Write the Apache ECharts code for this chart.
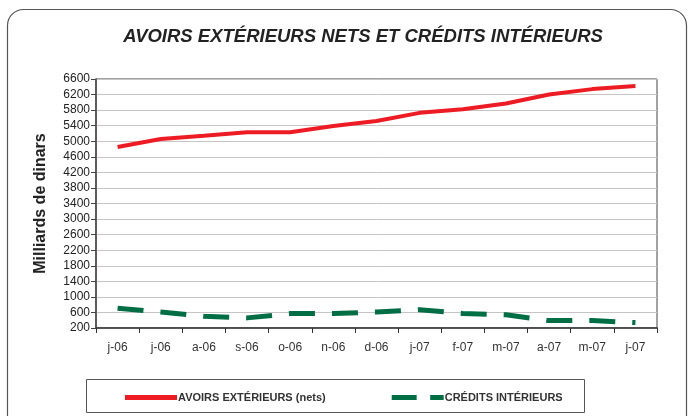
<!DOCTYPE html>
<html>
<head>
<meta charset="utf-8">
<script src="https://cdn.jsdelivr.net/npm/echarts@6/dist/echarts.min.js"></script>
<style>
	html, body {margin: 0; padding: 0; background: #fff;}
	#chart {width: 690px; height: 416px;}
</style>
</head>
<body>
<div id="chart"></div>
<script>
// mois (juin 2006 - juin 2007)
var months = ['j-06', 'j-06', 'a-06', 's-06', 'o-06', 'n-06', 'd-06', 'j-07', 'f-07', 'm-07', 'a-07', 'm-07', 'j-07'];
// avoirs extérieurs nets
var avoirs = [4850, 5060, 5140, 5230, 5230, 5390, 5520, 5730, 5820, 5970, 6200, 6340, 6420];
// crédits intérieurs
var credits = [710, 610, 500, 460, 570, 575, 610, 670, 575, 540, 390, 390, 340];

var myChart = echarts.init(document.getElementById('chart'));

var option = {
	animation: false,
	textStyle: {fontFamily: 'Liberation Sans, Arial, sans-serif'},
	title: {
		text: 'AVOIRS EXTÉRIEURS NETS ET CRÉDITS INTÉRIEURS',
		left: 358,
		top: 22,
		textAlign: 'center',
		textStyle: {
			fontSize: 18.5,
			fontWeight: 'bold',
			fontStyle: 'italic',
			color: '#222'
		}
	},
	graphic: [
		{
			// cadre arrondi autour du graphique
			type: 'rect',
			shape: {x: 7.5, y: 9.5, width: 679, height: 430, r: 16},
			style: {fill: 'none', stroke: '#555', lineWidth: 1.2},
			silent: true
		},
		{
			// cadre de la légende
			type: 'rect',
			shape: {x: 86.5, y: 379.5, width: 498, height: 33},
			style: {fill: 'none', stroke: '#555', lineWidth: 1},
			silent: true
		}
	],
	legend: {
		left: 120,
		top: 387,
		itemWidth: 52,
		itemHeight: 5,
		itemGap: 66,
		symbolKeepAspect: false,
		textStyle: {fontSize: 11, fontWeight: 'bold', color: '#333', padding: [0, 0, 0, -4]},
		data: [
			{name: 'AVOIRS EXTÉRIEURS (nets)', icon: 'path://M0,0H50V4H0Z'},
			{name: 'CRÉDITS INTÉRIEURS', icon: 'path://M0,0H24V5H0Z M37,0H50V5H37Z'}
		]
	},
	grid: {
		left: 96,
		right: 33,
		top: 79,
		bottom: 88,
		show: true,
		borderColor: '#444',
		borderWidth: 1
	},
	xAxis: {
		type: 'category',
		data: months,
		boundaryGap: true,
		axisLine: {lineStyle: {color: '#333', width: 1.5}},
		axisTick: {show: true, length: 5, lineStyle: {color: '#333'}},
		axisLabel: {fontSize: 12, color: '#333', margin: 14}
	},
	yAxis: {
		type: 'value',
		min: 200,
		max: 6600,
		interval: 400,
		name: 'Milliards de dinars',
		nameLocation: 'middle',
		nameGap: 47,
		nameTextStyle: {fontSize: 16, fontWeight: 'bold', color: '#222'},
		axisLine: {show: true, lineStyle: {color: '#444', width: 1.5}},
		axisTick: {show: true, length: 5, lineStyle: {color: '#444'}},
		axisLabel: {
			fontSize: 12,
			color: '#222',
			margin: 6,
			showMinLabel: true,
			showMaxLabel: true,
			formatter: function (v) { return String(v); }
		},
		splitLine: {lineStyle: {color: '#c9c4c4', width: 1}}
	},
	series: [
		{
			name: 'AVOIRS EXTÉRIEURS (nets)',
			type: 'line',
			data: avoirs,
			symbol: 'none',
			lineStyle: {color: '#ed1c24', width: 4},
			itemStyle: {color: '#ed1c24'}
		},
		{
			name: 'CRÉDITS INTÉRIEURS',
			type: 'line',
			data: credits,
			symbol: 'none',
			lineStyle: {color: '#006e45', width: 5, type: [26, 17]},
			itemStyle: {color: '#006e45'}
		}
	]
};

myChart.setOption(option);
</script>
</body>
</html>
